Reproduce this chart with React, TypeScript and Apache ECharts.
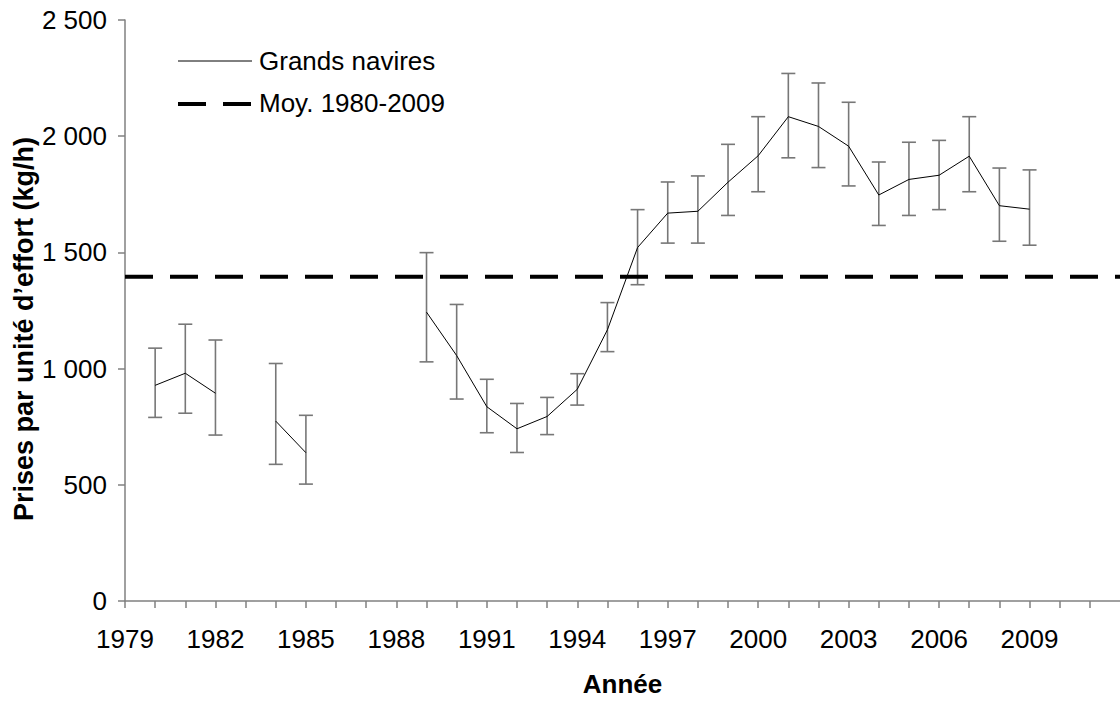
import React, { useEffect, useRef } from "react";
import * as echarts from "echarts";

// ---- Data ----
const years = [
  1980, 1981, 1982, 1983, 1984, 1985, 1986, 1987, 1988, 1989,
  1990, 1991, 1992, 1993, 1994, 1995, 1996, 1997, 1998, 1999,
  2000, 2001, 2002, 2003, 2004, 2005, 2006, 2007, 2008, 2009,
];
const cpue: (number | null)[] = [
  928, 980, 894, null, 774, 638, null, null, null, 1243,
  1056, 836, 741, 794, 911, 1167, 1521, 1669, 1677, 1802,
  1916, 2084, 2042, 1957, 1747, 1814, 1832, 1914, 1701, 1686,
];
const lower: (number | null)[] = [
  790, 808, 714, null, 588, 503, null, null, null, 1029,
  869, 724, 639, 716, 843, 1073, 1361, 1540, 1540, 1659,
  1761, 1907, 1865, 1786, 1616, 1659, 1684, 1761, 1548, 1531,
];
const upper: (number | null)[] = [
  1088, 1191, 1123, null, 1022, 799, null, null, null, 1499,
  1276, 954, 850, 876, 978, 1284, 1684, 1803, 1829, 1965,
  2084, 2270, 2229, 2146, 1889, 1974, 1982, 2084, 1863, 1855,
];
const meanValue = 1395;
const seriesNames = ["Grands navires", "Moy. 1980-2009"];
const xTitle = "Année";
const yTitle = "Prises par unité d’effort (kg/h)";
const xMin = 1979;
const xMax = 2012;
const yMin = 0;
const yMax = 2500;
const yStep = 500;

const FONT = "'Liberation Sans', Arial, Helvetica, sans-serif";

function fmtThousands(v: number): string {
  return String(v).replace(/\B(?=(\d{3})+(?!\d))/g, " ");
}

export default function App() {
  const ref = useRef<HTMLDivElement>(null);

  useEffect(() => {
    if (!ref.current) return;
    const chart = echarts.init(ref.current, undefined, { renderer: "svg" });

    const lineData = years.map((y, i) => [y, cpue[i] == null ? "-" : cpue[i]]);
    const errData = years
      .map((y, i) => [y, lower[i], upper[i]])
      .filter((d) => d[1] != null && d[2] != null);

    const axisColor = "#808080";

    chart.setOption({
      animation: false,
      backgroundColor: "#ffffff",
      textStyle: { fontFamily: FONT },
      grid: { left: 125, top: 20, width: 996.6, height: 587.5, containLabel: false },
      xAxis: {
        type: "value",
        min: xMin,
        max: xMax,
        interval: 1,
        name: xTitle,
        nameLocation: "middle",
        nameGap: 70,
        nameTextStyle: { fontFamily: FONT, fontSize: 26, fontWeight: "bold", color: "#000" },
        axisLine: { show: true, onZero: false, lineStyle: { color: axisColor, width: 1.5 } },
        axisTick: { show: true, inside: false, length: 7, lineStyle: { color: axisColor, width: 1.5 } },
        axisLabel: {
          margin: 25,
          fontFamily: FONT,
          fontSize: 26,
          color: "#000",
          showMaxLabel: false,
          formatter: (v: number) => ((v - xMin) % 3 === 0 ? String(v) : ""),
        },
        splitLine: { show: false },
      },
      yAxis: {
        type: "value",
        min: yMin,
        max: yMax,
        interval: yStep,
        axisLine: { show: true, lineStyle: { color: axisColor, width: 1.5 } },
        axisTick: { show: true, inside: false, length: 7, lineStyle: { color: axisColor, width: 1.5 } },
        axisLabel: {
          margin: 18,
          fontFamily: FONT,
          fontSize: 26,
          color: "#000",
          formatter: (v: number) => fmtThousands(v),
        },
        splitLine: { show: false },
      },
      graphic: [
        {
          type: "text",
          x: 24,
          y: 329,
          rotation: Math.PI / 2,
          style: {
            text: yTitle,
            font: `bold 27px ${FONT}`,
            fill: "#000",
            align: "center",
            verticalAlign: "middle",
          },
        },
        {
          type: "line",
          shape: { x1: 178, y1: 61, x2: 252, y2: 61 },
          style: { stroke: "#000", lineWidth: 1 },
        },
        {
          type: "text",
          x: 259,
          y: 61,
          style: { text: seriesNames[0], font: `26px ${FONT}`, fill: "#000", verticalAlign: "middle", align: "left" },
        },
        {
          type: "line",
          shape: { x1: 178, y1: 104, x2: 252, y2: 104 },
          style: { stroke: "#000", lineWidth: 4, lineDash: [28, 17] },
        },
        {
          type: "text",
          x: 259,
          y: 103,
          style: { text: seriesNames[1], font: `26px ${FONT}`, fill: "#000", verticalAlign: "middle", align: "left" },
        },
      ],
      series: [
        {
          name: "errors",
          type: "custom",
          silent: true,
          z: 2,
          data: errData,
          renderItem: (params: any, api: any) => {
            const x = api.value(0);
            const lo = api.value(1);
            const hi = api.value(2);
            const pTop = api.coord([x, hi]);
            const pBot = api.coord([x, lo]);
            const half = 7;
            const style = { stroke: "#777777", lineWidth: 1.6 };
            return {
              type: "group",
              children: [
                { type: "line", shape: { x1: pTop[0], y1: pTop[1], x2: pBot[0], y2: pBot[1] }, style },
                { type: "line", shape: { x1: pTop[0] - half, y1: pTop[1], x2: pTop[0] + half, y2: pTop[1] }, style },
                { type: "line", shape: { x1: pBot[0] - half, y1: pBot[1], x2: pBot[0] + half, y2: pBot[1] }, style },
              ],
            };
          },
        },
        {
          name: seriesNames[0],
          type: "line",
          data: lineData,
          symbol: "none",
          connectNulls: false,
          silent: true,
          z: 3,
          lineStyle: { color: "#000", width: 1 },
        },
        {
          name: seriesNames[1],
          type: "line",
          data: [
            [xMin, meanValue],
            [xMax, meanValue],
          ],
          symbol: "none",
          silent: true,
          z: 4,
          lineStyle: { color: "#000", width: 4, type: [28, 17] },
        },
      ],
    });

    return () => {
      chart.dispose();
    };
  }, []);

  return (
    <div
      ref={ref}
      style={{ position: "fixed", left: 0, top: 0, width: 1120, height: 702, background: "#fff" }}
    />
  );
}
